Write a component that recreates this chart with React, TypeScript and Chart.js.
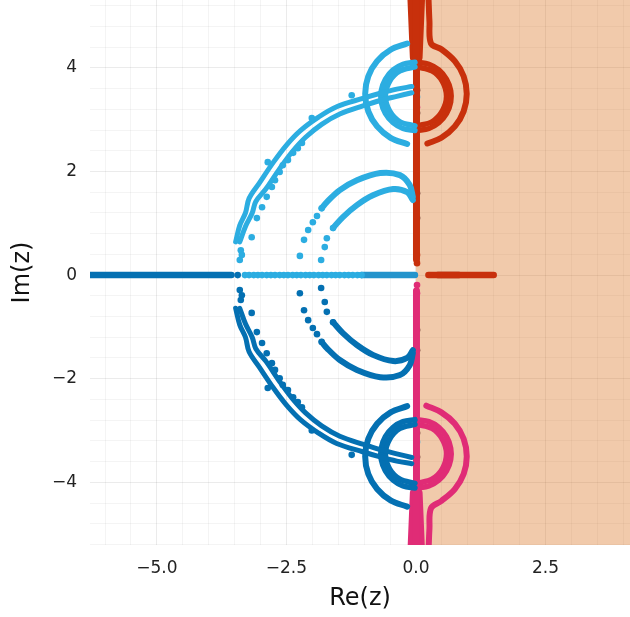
import React, { useEffect, useRef } from "react";
import { Chart, registerables } from "chart.js";
Chart.register(...registerables);

type P = [number, number];

// ---------- axes ----------
const xRange: P = [-6.29, 4.13];
const yRange: P = [-5.21, 5.31];
const xGridTicks = [-6, -5.5, -5, -4.5, -4, -3.5, -3, -2.5, -2, -1.5, -1, -0.5, 0, 0.5, 1, 1.5, 2, 2.5, 3, 3.5, 4];
const xMajorTicks = [-5, -2.5, 0, 2.5];
const xMajorLabels = ["\u22125.0", "\u22122.5", "0.0", "2.5"];
const yGridTicks = [-5.2, -4.8, -4.4, -4, -3.6, -3.2, -2.8, -2.4, -2, -1.6, -1.2, -0.8, -0.4, 0, 0.4, 0.8, 1.2, 1.6, 2, 2.4, 2.8, 3.2, 3.6, 4, 4.4, 4.8, 5.2];
const yMajorTicks = [-4, -2, 0, 2, 4];
const yMajorLabels = ["\u22124", "\u22122", "0", "2", "4"];
const shadeRange: P = [0, 4.13];

// ---------- dark blue (lower half, negative real axis) ----------
const dbAxisLine: P[] = [[-6.4, 0], [-3.56, 0]];
const dbAxisDots: P[] = [[-3.44, 0]];
const dbBigA: P[] = [[-3.48, -0.64], [-3.4, -0.96], [-3.29, -1.2], [-3.22, -1.48], [-3.02, -1.78], [-2.75, -2.18], [-2.49, -2.52], [-2.23, -2.79], [-1.88, -3.05], [-1.53, -3.25], [-1.03, -3.41], [-0.69, -3.51], [-0.37, -3.59], [-0.08, -3.64]];
const dbBigB: P[] = [[-3.4, -0.64], [-3.29, -0.94], [-3.16, -1.2], [-3.09, -1.42], [-2.89, -1.67], [-2.62, -2.07], [-2.38, -2.39], [-2.13, -2.66], [-1.82, -2.91], [-1.47, -3.11], [-1.01, -3.27], [-0.69, -3.37], [-0.37, -3.45], [-0.08, -3.52]];
const dbBigDots: P[] = [[-3.17, -0.73], [-3.07, -1.1], [-2.97, -1.31], [-2.88, -1.51], [-2.78, -1.7], [-2.72, -1.83], [-2.63, -1.99], [-2.57, -2.12], [-2.47, -2.22], [-2.37, -2.36], [-2.28, -2.45], [-2.2, -2.55], [-2.86, -2.18], [-2.01, -3.0], [-1.24, -3.47]];
const dbStem: P[] = [[-3.44, -0.68], [-3.38, -0.48], [-3.36, -0.39], [-3.4, -0.29]];
const dbMid1Dots: P[] = [[-2.24, -0.35], [-2.16, -0.68], [-2.08, -0.87], [-1.99, -1.02], [-1.91, -1.14], [-1.82, -1.29]];
const dbMid1Line: P[] = [[-1.82, -1.29], [-1.72, -1.41], [-1.47, -1.64], [-1.14, -1.83], [-0.69, -1.97], [-0.31, -1.93], [-0.12, -1.74], [-0.06, -1.51]];
const dbMid2Dots: P[] = [[-1.83, -0.25], [-1.76, -0.52], [-1.72, -0.71], [-1.6, -0.91]];
const dbMid2Line: P[] = [[-1.6, -0.91], [-1.41, -1.12], [-1.14, -1.35], [-0.83, -1.54], [-0.44, -1.66], [-0.17, -1.6], [-0.06, -1.45]];
const dbRingOuter: P[] = [[-0.17, -4.47], [-0.49, -4.35], [-0.75, -4.13], [-0.92, -3.84], [-0.98, -3.5], [-0.92, -3.16], [-0.75, -2.87], [-0.49, -2.65], [-0.17, -2.53]];
const dbRingInner1: P[] = [[-0.02, -4.11], [-0.25, -4.07], [-0.44, -3.96], [-0.59, -3.78], [-0.67, -3.56], [-0.67, -3.34], [-0.59, -3.12], [-0.44, -2.94], [-0.25, -2.83], [-0.02, -2.79]];
const dbRingInner2: P[] = [[-0.02, -4.02], [-0.31, -3.94], [-0.51, -3.74], [-0.59, -3.45], [-0.51, -3.17], [-0.31, -2.96], [-0.02, -2.88]];

// ---------- light blue (upper half, real axis -3.3..0) ----------
const lbAxisDots: P[] = [[-3.3, 0], [-3.22, 0], [-3.13, 0], [-3.05, 0], [-2.97, 0], [-2.88, 0], [-2.8, 0], [-2.72, 0], [-2.63, 0], [-2.55, 0], [-2.47, 0], [-2.38, 0], [-2.3, 0], [-2.22, 0], [-2.13, 0], [-2.05, 0], [-1.97, 0], [-1.88, 0], [-1.8, 0], [-1.72, 0], [-1.63, 0], [-1.55, 0], [-1.47, 0], [-1.38, 0], [-1.3, 0], [-1.22, 0], [-1.13, 0], [-1.05, 0]];
const lbAxisBand: P[] = [[-1.05, 0], [-0.02, 0]];
const lbBigA: P[] = [[-3.48, 0.64], [-3.4, 0.96], [-3.29, 1.2], [-3.22, 1.48], [-3.02, 1.78], [-2.75, 2.18], [-2.49, 2.52], [-2.23, 2.79], [-1.88, 3.05], [-1.53, 3.25], [-1.03, 3.41], [-0.69, 3.51], [-0.37, 3.59], [-0.08, 3.64]];
const lbBigB: P[] = [[-3.4, 0.64], [-3.29, 0.94], [-3.16, 1.2], [-3.09, 1.42], [-2.89, 1.67], [-2.62, 2.07], [-2.38, 2.39], [-2.13, 2.66], [-1.82, 2.91], [-1.47, 3.11], [-1.01, 3.27], [-0.69, 3.37], [-0.37, 3.45], [-0.08, 3.52]];
const lbBigDots: P[] = [[-3.17, 0.73], [-3.07, 1.1], [-2.97, 1.31], [-2.88, 1.51], [-2.78, 1.7], [-2.72, 1.83], [-2.63, 1.99], [-2.57, 2.12], [-2.47, 2.22], [-2.37, 2.36], [-2.28, 2.45], [-2.2, 2.55], [-2.86, 2.18], [-2.01, 3.03], [-1.24, 3.47]];
const lbStem: P[] = [[-3.44, 0.68], [-3.38, 0.48], [-3.36, 0.39], [-3.4, 0.29]];
const lbMid1Dots: P[] = [[-2.24, 0.37], [-2.16, 0.68], [-2.08, 0.87], [-1.99, 1.02], [-1.91, 1.14], [-1.82, 1.29]];
const lbMid1Line: P[] = [[-1.82, 1.29], [-1.72, 1.41], [-1.47, 1.64], [-1.14, 1.83], [-0.69, 1.97], [-0.31, 1.93], [-0.12, 1.74], [-0.06, 1.51]];
const lbMid2Dots: P[] = [[-1.83, 0.29], [-1.76, 0.54], [-1.72, 0.71], [-1.6, 0.91]];
const lbMid2Line: P[] = [[-1.6, 0.91], [-1.41, 1.12], [-1.14, 1.35], [-0.83, 1.54], [-0.44, 1.66], [-0.17, 1.6], [-0.06, 1.45]];
const lbRingOuter: P[] = [[-0.17, 4.47], [-0.49, 4.35], [-0.75, 4.13], [-0.92, 3.84], [-0.98, 3.5], [-0.92, 3.16], [-0.75, 2.87], [-0.49, 2.65], [-0.17, 2.53]];
const lbRingInner1: P[] = [[-0.02, 4.11], [-0.25, 4.07], [-0.44, 3.96], [-0.59, 3.78], [-0.67, 3.56], [-0.67, 3.34], [-0.59, 3.12], [-0.44, 2.94], [-0.25, 2.83], [-0.02, 2.79]];
const lbRingInner2: P[] = [[-0.02, 4.02], [-0.31, 3.94], [-0.51, 3.74], [-0.59, 3.45], [-0.51, 3.17], [-0.31, 2.96], [-0.02, 2.88]];
const lbSpecialDots: P[] = [[0.02, 3.44], [0.02, -3.22]];

// ---------- red (upper right) ----------
const rdStem: P[] = [[0.01, 5.4], [0.01, 0.3]];
const rdBandLeft: P[] = [[-0.1, 5.4], [-0.05, 4.2]];
const rdBandRight: P[] = [[0.11, 5.4], [0.06, 4.2]];
const rdOuter: P[] = [[0.24, 5.4], [0.26, 4.9], [0.29, 4.47], [0.49, 4.36], [0.75, 4.13], [0.92, 3.84], [0.98, 3.5], [0.92, 3.16], [0.75, 2.87], [0.49, 2.65], [0.22, 2.54]];
const rdInner1: P[] = [[0.02, 4.11], [0.25, 4.07], [0.44, 3.96], [0.59, 3.78], [0.67, 3.56], [0.67, 3.34], [0.59, 3.12], [0.44, 2.94], [0.25, 2.83], [0.02, 2.79]];
const rdInner2: P[] = [[0.02, 4.02], [0.31, 3.94], [0.51, 3.74], [0.59, 3.45], [0.51, 3.17], [0.31, 2.96], [0.02, 2.88]];
const rdAxis: P[] = [[0.24, 0], [1.5, 0]];
const rdAxisDark: P[] = [[0.42, 0], [0.83, 0]];
const rdDots: P[] = [[0.02, 0.39], [0.02, 0.23]];

// ---------- pink (lower right) ----------
const pkStem: P[] = [[0.01, -5.4], [0.01, -0.3]];
const pkBandLeft: P[] = [[-0.1, -5.4], [-0.05, -4.2]];
const pkBandRight: P[] = [[0.11, -5.4], [0.06, -4.2]];
const pkOuter: P[] = [[0.2, -2.52], [0.49, -2.65], [0.75, -2.87], [0.92, -3.16], [0.98, -3.5], [0.92, -3.84], [0.75, -4.13], [0.49, -4.36], [0.29, -4.5], [0.26, -4.9], [0.24, -5.4]];
const pkInner1: P[] = [[0.02, -2.79], [0.25, -2.83], [0.44, -2.94], [0.59, -3.12], [0.67, -3.34], [0.67, -3.56], [0.59, -3.78], [0.44, -3.96], [0.25, -4.07], [0.02, -4.11]];
const pkInner2: P[] = [[0.02, -2.88], [0.31, -2.96], [0.51, -3.17], [0.59, -3.45], [0.51, -3.74], [0.31, -3.94], [0.02, -4.02]];
const pkDots: P[] = [[0.02, -0.19], [0.02, -0.35], [0.02, 3.24]];

// ---------- dark overlap dots ----------
const darkDots: P[] = [[0.02, 3.57], [0.02, 3.13], [0.02, 1.58], [0.02, 1.1], [0.02, -1.06], [0.02, -1.45], [0.02, -3.05], [0.02, -3.51]];

const DB = "rgb(4,112,178)";
const LB = "rgb(44,173,225)";
const LB_BAND = "rgb(36,148,204)";
const RD = "rgb(200,48,12)";
const RD_DARK = "rgb(150,34,10)";
const PK = "rgb(224,44,118)";
const DARK = "rgb(85,28,22)";

const pts = (a: P[]) => a.map(([x, y]) => ({ x, y }));
const line = (a: P[], color: string, width: number, tension = 0.35) => ({
  data: pts(a),
  showLine: true,
  borderColor: color,
  backgroundColor: color,
  borderWidth: width,
  pointRadius: 0,
  pointHoverRadius: 0,
  tension,
  fill: false,
  borderCapStyle: "round" as const,
  borderJoinStyle: "round" as const,
});
const dots = (a: P[], color: string, r = 3.3) => ({
  data: pts(a),
  showLine: false,
  backgroundColor: color,
  borderColor: color,
  borderWidth: 0,
  pointRadius: r,
  pointHoverRadius: r,
});

const isIn = (v: number, arr: number[]) => arr.findIndex((m) => Math.abs(m - v) < 1e-9);

const shadePlugin = {
  id: "shade",
  beforeDatasetsDraw(chart: any) {
    const { ctx, chartArea, scales } = chart;
    const x0 = scales.x.getPixelForValue(shadeRange[0]);
    const x1 = scales.x.getPixelForValue(shadeRange[1]);
    ctx.save();
    ctx.fillStyle = "rgba(213,94,0,0.33)";
    ctx.fillRect(x0, chartArea.top, x1 - x0, chartArea.bottom - chartArea.top);
    ctx.restore();
  },
};

export default function App() {
  const ref = useRef<HTMLCanvasElement | null>(null);
  useEffect(() => {
    if (!ref.current) return;
    const datasets: any[] = [
      line(dbAxisLine, DB, 6.5, 0),
      dots(dbAxisDots, DB),
      line(dbBigA, DB, 5),
      line(dbBigB, DB, 5),
      dots(dbBigDots, DB),
      dots(dbStem, DB),
      dots(dbMid1Dots, DB),
      line(dbMid1Line, DB, 6),
      dots(dbMid2Dots, DB),
      line(dbMid2Line, DB, 6),
      line(dbRingOuter, DB, 6),
      line(dbRingInner1, DB, 5.5),
      line(dbRingInner2, DB, 5.5),

      dots(lbAxisDots, LB),
      line(lbAxisBand, LB_BAND, 6.5, 0),
      line(lbBigA, LB, 5),
      line(lbBigB, LB, 5),
      dots(lbBigDots, LB),
      dots(lbStem, LB),
      dots(lbMid1Dots, LB),
      line(lbMid1Line, LB, 6),
      dots(lbMid2Dots, LB),
      line(lbMid2Line, LB, 6),
      line(lbRingOuter, LB, 6),
      line(lbRingInner1, LB, 5.5),
      line(lbRingInner2, LB, 5.5),

      line(rdStem, RD, 7, 0),
      line(rdBandLeft, RD, 7, 0),
      line(rdBandRight, RD, 7, 0),
      line(rdOuter, RD, 6),
      line(rdInner1, RD, 5.5),
      line(rdInner2, RD, 5.5),
      line(rdAxis, RD, 6.5, 0),
      line(rdAxisDark, RD_DARK, 6.5, 0),
      dots(rdDots, RD),

      line(pkStem, PK, 7, 0),
      line(pkBandLeft, PK, 7, 0),
      line(pkBandRight, PK, 7, 0),
      line(pkOuter, PK, 6),
      line(pkInner1, PK, 5.5),
      line(pkInner2, PK, 5.5),
      dots(pkDots, PK),

      dots(darkDots, DARK),
      dots(lbSpecialDots, LB),
    ];

    const tickFont = { family: "'DejaVu Sans', sans-serif", size: 17 };
    const titleFont = { family: "'DejaVu Sans', sans-serif", size: 24 };

    const chart = new Chart(ref.current, {
      type: "scatter",
      data: { datasets },
      plugins: [shadePlugin],
      options: {
        responsive: false,
        animation: false,
        events: [],
        layout: { padding: 0, autoPadding: false },
        plugins: { legend: { display: false }, tooltip: { enabled: false } },
        scales: {
          x: {
            type: "linear",
            min: xRange[0],
            max: xRange[1],
            afterBuildTicks: (s: any) => {
              s.ticks = xGridTicks.map((v) => ({ value: v }));
            },
            afterFit: (s: any) => {
              s.height = 72;
              s.paddingLeft = 0;
              s.paddingRight = 0;
            },
            border: { display: false },
            grid: {
              drawTicks: false,
              color: (c: any) => (isIn(c.tick.value, xMajorTicks) >= 0 ? "rgba(0,0,0,0.08)" : "rgba(0,0,0,0.045)"),
              lineWidth: 1,
            },
            ticks: {
              autoSkip: false,
              maxRotation: 0,
              padding: 13,
              color: "#222",
              font: tickFont,
              callback: (v: any) => {
                const i = isIn(Number(v), xMajorTicks);
                return i >= 0 ? xMajorLabels[i] : "";
              },
            },
            title: { display: true, text: "Re(z)", color: "#111", font: titleFont, padding: { top: 0, bottom: 4 } },
          },
          y: {
            type: "linear",
            min: yRange[0],
            max: yRange[1],
            afterBuildTicks: (s: any) => {
              s.ticks = yGridTicks.map((v) => ({ value: v }));
            },
            afterFit: (s: any) => {
              s.width = 90;
              s.paddingTop = 0;
              s.paddingBottom = 0;
            },
            border: { display: false },
            grid: {
              drawTicks: false,
              color: (c: any) => (isIn(c.tick.value, yMajorTicks) >= 0 ? "rgba(0,0,0,0.08)" : "rgba(0,0,0,0.045)"),
              lineWidth: 1,
            },
            ticks: {
              autoSkip: false,
              padding: 13,
              color: "#222",
              font: tickFont,
              callback: (v: any) => {
                const i = isIn(Number(v), yMajorTicks);
                return i >= 0 ? yMajorLabels[i] : "";
              },
            },
            title: { display: true, text: "Im(z)", color: "#111", font: titleFont, padding: { top: 8, bottom: 0 } },
          },
        },
      },
    } as any);
    return () => chart.destroy();
  }, []);

  return (
    <div style={{ position: "fixed", left: 0, top: 0, width: 630, height: 617, background: "#fff" }}>
      <canvas ref={ref} width={630} height={617} style={{ display: "block", width: 630, height: 617 }} />
    </div>
  );
}
